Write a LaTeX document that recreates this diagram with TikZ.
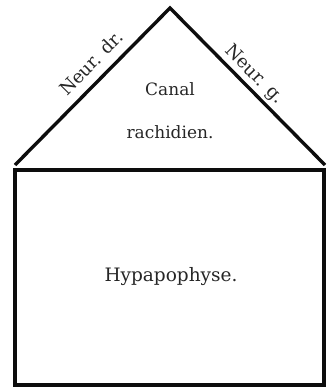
\documentclass[tikz,border=0pt]{standalone}
\usepackage{fontspec}
\setmainfont{DejaVu Serif}
\begin{document}
\begin{tikzpicture}[x=1pt,y=-1pt,
  edge/.style={line width=3.4pt, line join=miter, line cap=butt, black!95},
  lbl/.style={font=\fontsize{17}{20}\selectfont, text=black!85, inner sep=0pt},
  big/.style={lbl, font=\fontsize{18.5}{22}\selectfont},
  side/.style={lbl, font=\fontsize{18}{22}\selectfont}]
\useasboundingbox (0,0) rectangle (332,391);
\coordinate (apex) at (170,8);
\coordinate (bl) at (15,165);
\coordinate (br) at (325,165);
\coordinate (rtl) at (15,170);
\coordinate (rbr) at (324,385);
\draw[edge] (bl) -- (apex) -- (br);
\draw[edge] (rtl) rectangle (rbr);
\node[side, rotate=45.4] (ndr) at (91,63) {Neur. dr.};
\node[side, rotate=-45.4] (ng) at (254,75) {Neur. g.};
\node[lbl] (canal) at (170,89) {Canal};
\node[lbl] (rach) at (170,132) {rachidien.};
\node[big] (hyp) at (171,277) {Hypapophyse.};
\end{tikzpicture}
\end{document}
